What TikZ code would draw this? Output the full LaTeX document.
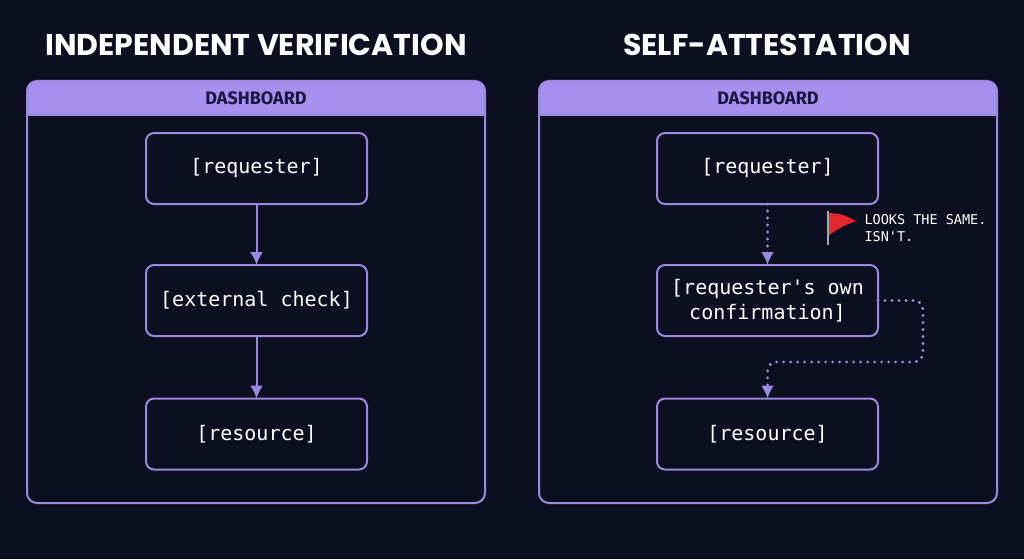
\documentclass[tikz,border=0pt]{standalone}
\usepackage{fontspec}
\usepackage{tikz}
\usetikzlibrary{arrows.meta}
\newfontfamily\titlefont{Poppins}
\newfontfamily\headfont{Fira Sans}
\newfontfamily\boxfont{DejaVu Sans Mono}
\definecolor{bgnavy}{HTML}{0C0F1F}
\definecolor{lav}{HTML}{9C88E0}
\definecolor{lavfill}{HTML}{A690F0}
\definecolor{headink}{HTML}{1B1640}
\definecolor{flagred}{HTML}{E0282E}
\tikzset{
  title/.style={text=white,font=\titlefont\bfseries\fontsize{30}{34}\selectfont},
  headlabel/.style={text=headink,font=\headfont\bfseries\fontsize{18}{20}\selectfont},
  stepbox/.style={draw=lav,line width=2pt,rounded corners=8pt,minimum width=221pt,
    minimum height=71pt,outer sep=0pt,text=white,align=center,
    font=\boxfont\fontsize{20}{25}\selectfont},
  flow/.style={draw=lav,line width=2pt,-{Latex[length=13pt,width=13pt]}},
  flowdot/.style={flow,line width=3.2pt,line cap=round,dash pattern=on 0pt off 7pt},
  note/.style={text=white,align=left,font=\boxfont\fontsize{13.5}{17}\selectfont}
}
\begin{document}
\begin{tikzpicture}[x=1pt,y=-1pt]
\fill[bgnavy] (0,0) rectangle (1024,559);
\useasboundingbox (0,0) rectangle (1024,559);

% left panel
\node[title] (ttlL) at (256,45) {INDEPENDENT VERIFICATION};
\begin{scope}
\clip[rounded corners=10pt] (27,81) rectangle (485,503);
\fill[lavfill] (27,81) rectangle (485,115);
\end{scope}
\draw[lav,line width=2pt,rounded corners=10pt] (27,81) rectangle (485,503);
\draw[lav,line width=1.5pt] (27,115) -- (485,115);
\node[headlabel] (dashL) at (256,98) {DASHBOARD};
\node[stepbox] (reqL) at (256.5,168.5) {[requester]};
\node[stepbox] (chk) at (256.5,300.5) {[external check]};
\node[stepbox] (resL) at (256.5,434) {[resource]};
\draw[flow] (reqL) -- (chk);
\draw[flow] (chk) -- (resL);

% right panel
\node[title] (ttlR) at (767,45) {SELF-ATTESTATION};
\begin{scope}
\clip[rounded corners=10pt] (539,81) rectangle (997,503);
\fill[lavfill] (539,81) rectangle (997,115);
\end{scope}
\draw[lav,line width=2pt,rounded corners=10pt] (539,81) rectangle (997,503);
\draw[lav,line width=1.5pt] (539,115) -- (997,115);
\node[headlabel] (dashR) at (768,98) {DASHBOARD};
\node[stepbox] (reqR) at (767.5,168.5) {[requester]};
\node[stepbox] (conf) at (767.5,300.5) {[requester's own\\confirmation]};
\node[stepbox] (resR) at (767.5,434) {[resource]};
\draw[flowdot] (reqR) -- (conf);
\coordinate (turn) at (923,362);
\draw[flowdot,rounded corners=9pt] (conf.east) -- (conf.east -| turn) -- (turn) -- (turn -| resR.north) -- (resR.north);

% red flag
\draw[gray!70,line width=1.2pt] (828,211) -- (828,245);
\fill[flagred] (829,213) .. controls (842,214) .. (856,221) .. controls (843,226) .. (829,235) -- cycle;
\node[note,anchor=west] (warn) at (861,228) {LOOKS THE SAME.\\ISN'T.};
\end{tikzpicture}
\end{document}
